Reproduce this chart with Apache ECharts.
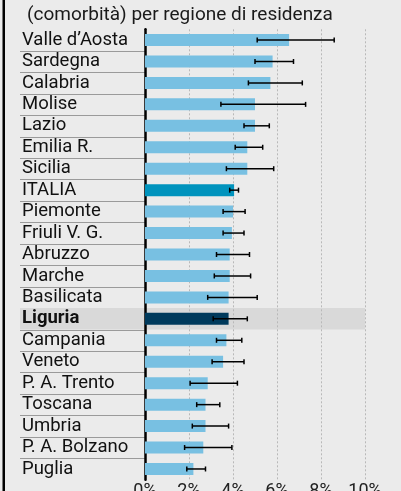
<!DOCTYPE html>
<html><head><meta charset="utf-8">
<script src="https://cdn.jsdelivr.net/npm/echarts@6/dist/echarts.min.js"></script>
<style>html,body{margin:0;padding:0;background:#ebebeb}#c{width:401px;height:491px}</style>
</head><body><div id="c"></div>
<script>
const categories = ["Valle d’Aosta","Sardegna","Calabria","Molise","Lazio","Emilia R.","Sicilia","ITALIA","Piemonte","Friuli V. G.","Abruzzo","Marche","Basilicata","Liguria","Campania","Veneto","P. A. Trento","Toscana","Umbria","P. A. Bolzano","Puglia"];
const values  = [6.55,5.8,5.7,5.0,5.0,4.65,4.65,4.05,4.0,3.95,3.85,3.85,3.8,3.8,3.7,3.55,2.85,2.75,2.75,2.65,2.2];
const errLow  = [5.1,5.0,4.7,3.45,4.5,4.1,3.7,3.85,3.55,3.55,3.25,3.15,2.85,3.1,3.25,3.05,2.05,2.35,2.15,1.8,1.9];
const errHigh = [8.6,6.75,7.15,7.3,5.65,5.35,5.85,4.25,4.55,4.5,4.75,4.8,5.1,4.65,4.4,4.5,4.2,3.4,3.8,3.95,2.75];
const xTicks  = [0,2,4,6,8,10];
const titleText = "(comorbità) per regione di residenza";
const highlight = "Liguria";
const national = "ITALIA";

const FONT = 'Roboto';
const chart = echarts.init(document.getElementById('c'), null, {renderer:'canvas'});
const errData = categories.map((c,i)=>[i, errLow[i], errHigh[i]]);
const decoData = categories.map((c,i)=>[0, i]);

chart.setOption({
  backgroundColor:'#ebebeb',
  animation:false,
  title:{text:titleText, left:22, top:1,
    textStyle:{fontFamily:FONT, fontSize:19, fontWeight:'normal', color:'#1a1a1a'}},
  graphic:[{type:'rect', left:2.5, top:0, shape:{width:2.5, height:491}, style:{fill:'#000'}, z:10}],
  grid:{left:145, right:36, top:29.3, bottom:11.3, containLabel:false, outerBoundsMode:'none'},
  xAxis:{type:'value', min:xTicks[0], max:xTicks[xTicks.length-1], interval:2,
    axisLine:{show:false}, axisTick:{show:false},
    splitLine:{show:true, lineStyle:{type:[2,2], color:'#b8b8b8', width:1}},
    axisLabel:{formatter:'{value}%', fontFamily:FONT, fontSize:18, color:'#222', margin:3}},
  yAxis:{type:'category', data:categories, inverse:true,
    axisLine:{show:true, onZero:false, lineStyle:{color:'#000', width:2.5}},
    axisTick:{show:false},
    axisLabel:{interval:0, margin:123, align:'left', fontFamily:FONT, fontSize:18.5, color:'#111',
      formatter:v=> v===highlight ? '{b|'+v+'}' : v,
      rich:{b:{fontFamily:FONT, fontSize:18.5, fontWeight:'bold', color:'#111'}}}},
  series:[
    {type:'custom', z:-1, data:decoData, encode:{x:0,y:1}, silent:true,
     renderItem:(params, api)=>{
       const i = api.value(1);
       const p = api.coord([0,i]);
       const band = api.size([0,1])[1];
       const children = [];
       const y0 = p[1]-band/2;
       if (i>0) children.push({type:'line', shape:{x1:p[0]-125, y1:Math.round(y0)+0.5, x2:p[0], y2:Math.round(y0)+0.5}, style:{stroke:'#9a9a9a', lineWidth:1}});
       if (categories[i]===highlight){
         const pr = api.coord([xTicks[xTicks.length-1], i]);
         children.push({type:'rect', shape:{x:p[0]-125, y:y0, width:pr[0]-p[0]+125, height:band}, style:{fill:'#d9d9d9'}});
       }
       return {type:'group', children};
     }},
    {type:'bar', data:values, barWidth:12, z:2,
     itemStyle:{color:(p)=> categories[p.dataIndex]===highlight ? '#003a5c' : (categories[p.dataIndex]===national ? '#0093bd' : '#78c0e2')}},
    {type:'custom', z:3, data:errData, encode:{x:[1,2], y:0},
     renderItem:(params, api)=>{
       const i = api.value(0);
       const lo = api.coord([api.value(1), i]);
       const hi = api.coord([api.value(2), i]);
       const h = 2.5;
       const st = {stroke:'#000', lineWidth:1.5};
       return {type:'group', children:[
         {type:'line', shape:{x1:lo[0], y1:lo[1], x2:hi[0], y2:hi[1]}, style:st},
         {type:'line', shape:{x1:lo[0], y1:lo[1]-h, x2:lo[0], y2:lo[1]+h}, style:st},
         {type:'line', shape:{x1:hi[0], y1:hi[1]-h, x2:hi[0], y2:hi[1]+h}, style:st}
       ]};
     }}
  ]
});
</script></body></html>
